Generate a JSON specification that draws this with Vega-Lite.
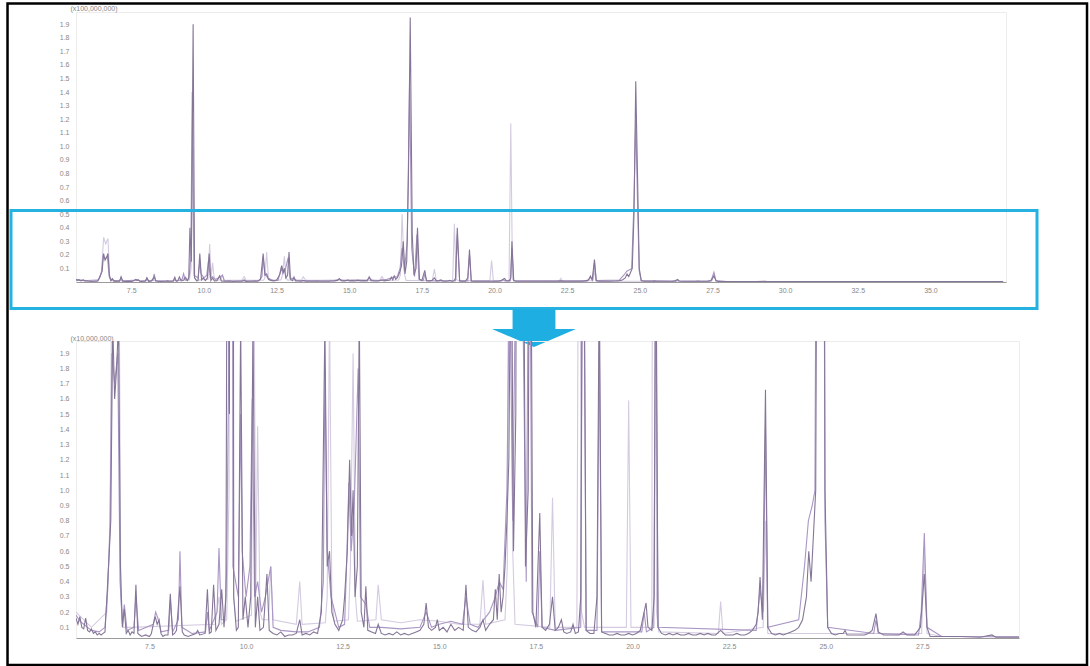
{
  "$schema": "https://vega.github.io/schema/vega-lite/v6.json",
  "autosize": {"type": "pad"},
  "padding": {"left": 5, "top": 1, "right": 3, "bottom": 1},
  "background": "white",
  "spacing": 59,
  "bounds": "flush",
  "config": {
    "view": {"stroke": "#ececec"},
    "axis": {"labelFont": "Liberation Sans", "labelFontSize": 7, "labelColor": "#888", "labelOverlap": false, "ticks": false, "grid": false, "titleFont": "Liberation Sans", "titleFontSize": 7, "titleFontWeight": "normal", "titleColor": "#888", "domainColor": "#9a9a9a"}
  },
  "datasets": {
    "chrom": [
      {"s":"light","t":5.6,"v":0.2},{"s":"light","t":6.0,"v":0.1},{"s":"light","t":6.4,"v":0.2},{"s":"light","t":6.48,"v":0.8},{"s":"light","t":6.55,"v":3.3},{"s":"light","t":6.62,"v":2.8},{"s":"light","t":6.7,"v":3.2},{"s":"light","t":6.76,"v":0.3},{"s":"light","t":6.82,"v":0.1},{"s":"light","t":7.0,"v":0.1},{"s":"light","t":9.2,"v":0.12},{"s":"light","t":9.3,"v":0.3},{"s":"light","t":9.36,"v":0.12},{"s":"light","t":9.5,"v":0.15},{"s":"light","t":9.56,"v":1.0},{"s":"light","t":9.62,"v":10},{"s":"light","t":9.68,"v":0.3},{"s":"light","t":9.74,"v":0.14},{"s":"light","t":10.14,"v":0.18},{"s":"light","t":10.2,"v":2.8},{"s":"light","t":10.25,"v":0.3},{"s":"light","t":10.3,"v":1.42},{"s":"light","t":10.36,"v":0.2},{"s":"light","t":10.42,"v":0.15},{"s":"light","t":10.58,"v":0.15},{"s":"light","t":10.64,"v":0.5},{"s":"light","t":10.7,"v":0.15},{"s":"light","t":11.3,"v":0.12},{"s":"light","t":11.39,"v":0.4},{"s":"light","t":11.45,"v":0.12},{"s":"light","t":12.05,"v":0.13},{"s":"light","t":12.1,"v":0.3},{"s":"light","t":12.16,"v":2.2},{"s":"light","t":12.22,"v":0.3},{"s":"light","t":12.28,"v":0.14},{"s":"light","t":12.65,"v":0.15},{"s":"light","t":12.7,"v":0.5},{"s":"light","t":12.77,"v":1.9},{"s":"light","t":12.83,"v":0.3},{"s":"light","t":12.88,"v":0.14},{"s":"light","t":13.36,"v":0.15},{"s":"light","t":13.42,"v":0.38},{"s":"light","t":13.5,"v":0.15},{"s":"light","t":14.0,"v":0.13},{"s":"light","t":14.5,"v":0.15},{"s":"light","t":15.0,"v":0.14},{"s":"light","t":15.5,"v":0.12},{"s":"light","t":16.05,"v":0.12},{"s":"light","t":16.13,"v":0.41},{"s":"light","t":16.2,"v":0.12},{"s":"light","t":16.7,"v":0.15},{"s":"light","t":16.76,"v":0.5},{"s":"light","t":16.82,"v":5},{"s":"light","t":16.9,"v":0.6},{"s":"light","t":16.96,"v":0.12},{"s":"light","t":17.86,"v":0.1},{"s":"light","t":17.93,"v":0.95},{"s":"light","t":18.0,"v":0.1},{"s":"light","t":18.56,"v":0.1},{"s":"light","t":18.62,"v":4.3},{"s":"light","t":18.68,"v":0.2},{"s":"light","t":18.76,"v":0.1},{"s":"light","t":19.84,"v":0.1},{"s":"light","t":19.9,"v":1.59},{"s":"light","t":19.96,"v":0.1},{"s":"light","t":20.5,"v":0.1},{"s":"light","t":20.56,"v":11.7},{"s":"light","t":20.62,"v":0.2},{"s":"light","t":20.68,"v":0.07},{"s":"light","t":22.22,"v":0.06},{"s":"light","t":22.28,"v":0.27},{"s":"light","t":22.34,"v":0.06},{"s":"light","t":23.38,"v":0.1},{"s":"light","t":23.44,"v":0.8},{"s":"light","t":23.5,"v":0.06},{"s":"light","t":27.48,"v":0.06},{"s":"light","t":27.55,"v":0.6},{"s":"light","t":27.62,"v":0.06},{"s":"light","t":28.0,"v":0.04},{"s":"light","t":37.5,"v":0.03},

      {"s":"mid","t":5.6,"v":0.18},{"s":"mid","t":5.7,"v":0.14},{"s":"mid","t":5.8,"v":0.12},{"s":"mid","t":5.9,"v":0.1},{"s":"mid","t":6.0,"v":0.08},{"s":"mid","t":6.2,"v":0.07},{"s":"mid","t":6.35,"v":0.1},{"s":"mid","t":6.42,"v":0.35},{"s":"mid","t":6.48,"v":0.75},{"s":"mid","t":6.53,"v":1.9},{"s":"mid","t":6.6,"v":1.7},{"s":"mid","t":6.68,"v":1.9},{"s":"mid","t":6.74,"v":0.4},{"s":"mid","t":6.8,"v":0.12},{"s":"mid","t":6.85,"v":0.25},{"s":"mid","t":6.92,"v":0.08},{"s":"mid","t":7.1,"v":0.1},{"s":"mid","t":7.15,"v":0.3},{"s":"mid","t":7.22,"v":0.08},{"s":"mid","t":7.6,"v":0.12},{"s":"mid","t":7.66,"v":0.2},{"s":"mid","t":7.72,"v":0.16},{"s":"mid","t":7.8,"v":0.07},{"s":"mid","t":8.0,"v":0.08},{"s":"mid","t":8.04,"v":0.28},{"s":"mid","t":8.1,"v":0.07},{"s":"mid","t":8.25,"v":0.15},{"s":"mid","t":8.29,"v":0.6},{"s":"mid","t":8.34,"v":0.1},{"s":"mid","t":8.6,"v":0.06},{"s":"mid","t":8.95,"v":0.07},{"s":"mid","t":9.0,"v":0.2},{"s":"mid","t":9.05,"v":0.08},{"s":"mid","t":9.25,"v":0.2},{"s":"mid","t":9.3,"v":0.62},{"s":"mid","t":9.36,"v":0.15},{"s":"mid","t":9.45,"v":0.15},{"s":"mid","t":9.5,"v":0.5},{"s":"mid","t":9.55,"v":1.8},{"s":"mid","t":9.6,"v":14},{"s":"mid","t":9.66,"v":0.5},{"s":"mid","t":9.8,"v":0.3},{"s":"mid","t":9.86,"v":1.5},{"s":"mid","t":9.9,"v":0.6},{"s":"mid","t":10.0,"v":0.3},{"s":"mid","t":10.1,"v":0.5},{"s":"mid","t":10.16,"v":1.6},{"s":"mid","t":10.22,"v":0.3},{"s":"mid","t":10.3,"v":0.4},{"s":"mid","t":10.4,"v":0.2},{"s":"mid","t":10.5,"v":0.3},{"s":"mid","t":10.64,"v":0.5},{"s":"mid","t":10.7,"v":0.1},{"s":"mid","t":10.9,"v":0.08},{"s":"mid","t":11.3,"v":0.07},{"s":"mid","t":11.6,"v":0.07},{"s":"mid","t":11.9,"v":0.1},{"s":"mid","t":12.0,"v":0.4},{"s":"mid","t":12.04,"v":1.8},{"s":"mid","t":12.1,"v":0.6},{"s":"mid","t":12.2,"v":0.3},{"s":"mid","t":12.4,"v":0.1},{"s":"mid","t":12.55,"v":0.12},{"s":"mid","t":12.6,"v":0.5},{"s":"mid","t":12.66,"v":1.05},{"s":"mid","t":12.72,"v":0.6},{"s":"mid","t":12.8,"v":0.9},{"s":"mid","t":12.9,"v":1.8},{"s":"mid","t":12.96,"v":0.3},{"s":"mid","t":13.1,"v":0.25},{"s":"mid","t":13.2,"v":0.1},{"s":"mid","t":13.5,"v":0.1},{"s":"mid","t":14.0,"v":0.09},{"s":"mid","t":14.5,"v":0.1},{"s":"mid","t":14.66,"v":0.2},{"s":"mid","t":14.8,"v":0.1},{"s":"mid","t":15.0,"v":0.12},{"s":"mid","t":15.3,"v":0.14},{"s":"mid","t":15.6,"v":0.12},{"s":"mid","t":15.69,"v":0.3},{"s":"mid","t":15.8,"v":0.12},{"s":"mid","t":16.0,"v":0.1},{"s":"mid","t":16.3,"v":0.2},{"s":"mid","t":16.45,"v":0.3},{"s":"mid","t":16.55,"v":0.4},{"s":"mid","t":16.65,"v":0.35},{"s":"mid","t":16.75,"v":1.0},{"s":"mid","t":16.82,"v":2.5},{"s":"mid","t":16.9,"v":0.8},{"s":"mid","t":17.0,"v":3},{"s":"mid","t":17.08,"v":15},{"s":"mid","t":17.15,"v":2.5},{"s":"mid","t":17.25,"v":0.4},{"s":"mid","t":17.33,"v":3.5},{"s":"mid","t":17.4,"v":0.2},{"s":"mid","t":17.55,"v":0.1},{"s":"mid","t":17.6,"v":0.6},{"s":"mid","t":17.66,"v":0.1},{"s":"mid","t":18.0,"v":0.08},{"s":"mid","t":18.66,"v":0.1},{"s":"mid","t":18.72,"v":3.5},{"s":"mid","t":18.8,"v":0.08},{"s":"mid","t":19.08,"v":0.08},{"s":"mid","t":19.14,"v":2.0},{"s":"mid","t":19.2,"v":0.07},{"s":"mid","t":20.24,"v":0.07},{"s":"mid","t":20.3,"v":0.2},{"s":"mid","t":20.36,"v":0.07},{"s":"mid","t":20.55,"v":0.1},{"s":"mid","t":20.6,"v":2.5},{"s":"mid","t":20.66,"v":0.1},{"s":"mid","t":23.2,"v":0.08},{"s":"mid","t":23.3,"v":0.35},{"s":"mid","t":23.38,"v":0.2},{"s":"mid","t":23.44,"v":1.4},{"s":"mid","t":23.5,"v":0.1},{"s":"mid","t":24.3,"v":0.15},{"s":"mid","t":24.45,"v":0.5},{"s":"mid","t":24.55,"v":0.8},{"s":"mid","t":24.65,"v":0.9},{"s":"mid","t":24.72,"v":1.0},{"s":"mid","t":24.8,"v":6},{"s":"mid","t":24.86,"v":12},{"s":"mid","t":24.92,"v":6},{"s":"mid","t":24.98,"v":0.8},{"s":"mid","t":25.05,"v":0.1},{"s":"mid","t":26.24,"v":0.06},{"s":"mid","t":26.3,"v":0.15},{"s":"mid","t":26.36,"v":0.06},{"s":"mid","t":27.4,"v":0.05},{"s":"mid","t":27.47,"v":0.2},{"s":"mid","t":27.55,"v":0.72},{"s":"mid","t":27.62,"v":0.1},{"s":"mid","t":28.0,"v":0.04},{"s":"mid","t":37.5,"v":0.03},

      {"s":"dark","t":5.6,"v":0.16},{"s":"dark","t":5.65,"v":0.12},{"s":"dark","t":5.7,"v":0.17},{"s":"dark","t":5.75,"v":0.1},{"s":"dark","t":5.8,"v":0.09},{"s":"dark","t":5.85,"v":0.16},{"s":"dark","t":5.9,"v":0.08},{"s":"dark","t":5.95,"v":0.07},{"s":"dark","t":6.0,"v":0.09},{"s":"dark","t":6.05,"v":0.06},{"s":"dark","t":6.1,"v":0.07},{"s":"dark","t":6.15,"v":0.05},{"s":"dark","t":6.2,"v":0.06},{"s":"dark","t":6.25,"v":0.05},{"s":"dark","t":6.3,"v":0.06},{"s":"dark","t":6.35,"v":0.07},{"s":"dark","t":6.4,"v":0.3},{"s":"dark","t":6.46,"v":0.59},{"s":"dark","t":6.5,"v":0.8},{"s":"dark","t":6.55,"v":2.1},{"s":"dark","t":6.6,"v":1.6},{"s":"dark","t":6.65,"v":1.8},{"s":"dark","t":6.7,"v":2.1},{"s":"dark","t":6.75,"v":0.5},{"s":"dark","t":6.8,"v":0.1},{"s":"dark","t":6.85,"v":0.22},{"s":"dark","t":6.9,"v":0.06},{"s":"dark","t":6.95,"v":0.08},{"s":"dark","t":7.0,"v":0.05},{"s":"dark","t":7.05,"v":0.07},{"s":"dark","t":7.1,"v":0.06},{"s":"dark","t":7.15,"v":0.38},{"s":"dark","t":7.2,"v":0.06},{"s":"dark","t":7.25,"v":0.05},{"s":"dark","t":7.3,"v":0.04},{"s":"dark","t":7.4,"v":0.05},{"s":"dark","t":7.5,"v":0.04},{"s":"dark","t":7.55,"v":0.06},{"s":"dark","t":7.6,"v":0.12},{"s":"dark","t":7.65,"v":0.17},{"s":"dark","t":7.7,"v":0.12},{"s":"dark","t":7.75,"v":0.15},{"s":"dark","t":7.8,"v":0.06},{"s":"dark","t":7.85,"v":0.04},{"s":"dark","t":7.9,"v":0.05},{"s":"dark","t":7.98,"v":0.05},{"s":"dark","t":8.04,"v":0.32},{"s":"dark","t":8.1,"v":0.05},{"s":"dark","t":8.15,"v":0.06},{"s":"dark","t":8.2,"v":0.08},{"s":"dark","t":8.29,"v":0.37},{"s":"dark","t":8.35,"v":0.07},{"s":"dark","t":8.4,"v":0.05},{"s":"dark","t":8.5,"v":0.04},{"s":"dark","t":8.6,"v":0.05},{"s":"dark","t":8.7,"v":0.06},{"s":"dark","t":8.75,"v":0.08},{"s":"dark","t":8.8,"v":0.05},{"s":"dark","t":8.94,"v":0.06},{"s":"dark","t":9.0,"v":0.35},{"s":"dark","t":9.05,"v":0.06},{"s":"dark","t":9.1,"v":0.07},{"s":"dark","t":9.16,"v":0.38},{"s":"dark","t":9.22,"v":0.08},{"s":"dark","t":9.3,"v":0.12},{"s":"dark","t":9.37,"v":0.35},{"s":"dark","t":9.43,"v":0.1},{"s":"dark","t":9.48,"v":0.3},{"s":"dark","t":9.52,"v":4.0},{"s":"dark","t":9.57,"v":1.5},{"s":"dark","t":9.63,"v":19.0},{"s":"dark","t":9.68,"v":0.3},{"s":"dark","t":9.75,"v":0.08},{"s":"dark","t":9.8,"v":0.1},{"s":"dark","t":9.86,"v":2.1},{"s":"dark","t":9.92,"v":0.15},{"s":"dark","t":9.98,"v":0.3},{"s":"dark","t":10.05,"v":0.1},{"s":"dark","t":10.12,"v":0.3},{"s":"dark","t":10.18,"v":2.1},{"s":"dark","t":10.24,"v":0.1},{"s":"dark","t":10.3,"v":0.3},{"s":"dark","t":10.36,"v":0.08},{"s":"dark","t":10.45,"v":0.1},{"s":"dark","t":10.54,"v":0.45},{"s":"dark","t":10.6,"v":0.08},{"s":"dark","t":10.7,"v":0.06},{"s":"dark","t":10.8,"v":0.05},{"s":"dark","t":10.9,"v":0.07},{"s":"dark","t":11.0,"v":0.04},{"s":"dark","t":11.1,"v":0.05},{"s":"dark","t":11.2,"v":0.05},{"s":"dark","t":11.3,"v":0.06},{"s":"dark","t":11.39,"v":0.15},{"s":"dark","t":11.45,"v":0.05},{"s":"dark","t":11.55,"v":0.06},{"s":"dark","t":11.65,"v":0.05},{"s":"dark","t":11.75,"v":0.07},{"s":"dark","t":11.85,"v":0.06},{"s":"dark","t":11.95,"v":0.2},{"s":"dark","t":12.04,"v":2.1},{"s":"dark","t":12.1,"v":0.5},{"s":"dark","t":12.16,"v":0.6},{"s":"dark","t":12.22,"v":0.2},{"s":"dark","t":12.3,"v":0.12},{"s":"dark","t":12.4,"v":0.08},{"s":"dark","t":12.5,"v":0.15},{"s":"dark","t":12.55,"v":0.3},{"s":"dark","t":12.62,"v":0.6},{"s":"dark","t":12.68,"v":1.2},{"s":"dark","t":12.73,"v":0.7},{"s":"dark","t":12.77,"v":1.0},{"s":"dark","t":12.82,"v":0.3},{"s":"dark","t":12.88,"v":0.5},{"s":"dark","t":12.93,"v":2.2},{"s":"dark","t":12.98,"v":0.2},{"s":"dark","t":13.05,"v":0.1},{"s":"dark","t":13.1,"v":0.37},{"s":"dark","t":13.15,"v":0.08},{"s":"dark","t":13.25,"v":0.07},{"s":"dark","t":13.35,"v":0.06},{"s":"dark","t":13.42,"v":0.12},{"s":"dark","t":13.5,"v":0.06},{"s":"dark","t":13.6,"v":0.05},{"s":"dark","t":13.7,"v":0.06},{"s":"dark","t":13.8,"v":0.05},{"s":"dark","t":13.9,"v":0.07},{"s":"dark","t":14.0,"v":0.05},{"s":"dark","t":14.1,"v":0.06},{"s":"dark","t":14.2,"v":0.05},{"s":"dark","t":14.3,"v":0.06},{"s":"dark","t":14.4,"v":0.07},{"s":"dark","t":14.5,"v":0.08},{"s":"dark","t":14.6,"v":0.12},{"s":"dark","t":14.66,"v":0.26},{"s":"dark","t":14.72,"v":0.1},{"s":"dark","t":14.8,"v":0.08},{"s":"dark","t":14.9,"v":0.1},{"s":"dark","t":14.95,"v":0.15},{"s":"dark","t":15.0,"v":0.08},{"s":"dark","t":15.1,"v":0.1},{"s":"dark","t":15.2,"v":0.07},{"s":"dark","t":15.3,"v":0.12},{"s":"dark","t":15.4,"v":0.08},{"s":"dark","t":15.5,"v":0.1},{"s":"dark","t":15.62,"v":0.08},{"s":"dark","t":15.69,"v":0.38},{"s":"dark","t":15.75,"v":0.1},{"s":"dark","t":15.85,"v":0.08},{"s":"dark","t":15.95,"v":0.07},{"s":"dark","t":16.05,"v":0.1},{"s":"dark","t":16.13,"v":0.15},{"s":"dark","t":16.2,"v":0.08},{"s":"dark","t":16.3,"v":0.12},{"s":"dark","t":16.4,"v":0.15},{"s":"dark","t":16.45,"v":0.35},{"s":"dark","t":16.5,"v":0.15},{"s":"dark","t":16.55,"v":0.45},{"s":"dark","t":16.6,"v":0.2},{"s":"dark","t":16.65,"v":0.3},{"s":"dark","t":16.7,"v":0.5},{"s":"dark","t":16.75,"v":0.8},{"s":"dark","t":16.8,"v":1.2},{"s":"dark","t":16.86,"v":3.0},{"s":"dark","t":16.92,"v":0.6},{"s":"dark","t":16.98,"v":1.5},{"s":"dark","t":17.04,"v":8.0},{"s":"dark","t":17.1,"v":19.5},{"s":"dark","t":17.17,"v":3.5},{"s":"dark","t":17.23,"v":0.5},{"s":"dark","t":17.3,"v":1.0},{"s":"dark","t":17.35,"v":4.0},{"s":"dark","t":17.42,"v":0.2},{"s":"dark","t":17.5,"v":0.1},{"s":"dark","t":17.6,"v":0.85},{"s":"dark","t":17.66,"v":0.1},{"s":"dark","t":17.75,"v":0.08},{"s":"dark","t":17.85,"v":0.12},{"s":"dark","t":17.93,"v":0.3},{"s":"dark","t":18.0,"v":0.08},{"s":"dark","t":18.08,"v":0.1},{"s":"dark","t":18.16,"v":0.15},{"s":"dark","t":18.22,"v":0.07},{"s":"dark","t":18.3,"v":0.06},{"s":"dark","t":18.4,"v":0.07},{"s":"dark","t":18.46,"v":0.12},{"s":"dark","t":18.52,"v":0.06},{"s":"dark","t":18.6,"v":0.07},{"s":"dark","t":18.66,"v":0.3},{"s":"dark","t":18.72,"v":4.0},{"s":"dark","t":18.8,"v":0.08},{"s":"dark","t":18.9,"v":0.06},{"s":"dark","t":19.0,"v":0.06},{"s":"dark","t":19.08,"v":0.3},{"s":"dark","t":19.14,"v":2.4},{"s":"dark","t":19.2,"v":0.07},{"s":"dark","t":19.3,"v":0.06},{"s":"dark","t":19.4,"v":0.05},{"s":"dark","t":19.5,"v":0.05},{"s":"dark","t":19.6,"v":0.06},{"s":"dark","t":19.7,"v":0.05},{"s":"dark","t":19.8,"v":0.05},{"s":"dark","t":19.9,"v":0.06},{"s":"dark","t":20.0,"v":0.05},{"s":"dark","t":20.1,"v":0.06},{"s":"dark","t":20.2,"v":0.08},{"s":"dark","t":20.3,"v":0.2},{"s":"dark","t":20.35,"v":0.26},{"s":"dark","t":20.4,"v":0.1},{"s":"dark","t":20.5,"v":0.08},{"s":"dark","t":20.56,"v":0.3},{"s":"dark","t":20.6,"v":3.0},{"s":"dark","t":20.66,"v":0.1},{"s":"dark","t":20.75,"v":0.06},{"s":"dark","t":20.85,"v":0.05},{"s":"dark","t":20.95,"v":0.06},{"s":"dark","t":21.05,"v":0.05},{"s":"dark","t":21.15,"v":0.06},{"s":"dark","t":21.25,"v":0.05},{"s":"dark","t":21.35,"v":0.05},{"s":"dark","t":21.45,"v":0.06},{"s":"dark","t":21.55,"v":0.05},{"s":"dark","t":21.65,"v":0.05},{"s":"dark","t":21.75,"v":0.06},{"s":"dark","t":21.85,"v":0.05},{"s":"dark","t":21.95,"v":0.06},{"s":"dark","t":22.05,"v":0.05},{"s":"dark","t":22.15,"v":0.05},{"s":"dark","t":22.28,"v":0.08},{"s":"dark","t":22.4,"v":0.05},{"s":"dark","t":22.5,"v":0.05},{"s":"dark","t":22.6,"v":0.05},{"s":"dark","t":22.7,"v":0.06},{"s":"dark","t":22.8,"v":0.05},{"s":"dark","t":22.9,"v":0.05},{"s":"dark","t":23.0,"v":0.06},{"s":"dark","t":23.1,"v":0.08},{"s":"dark","t":23.2,"v":0.12},{"s":"dark","t":23.25,"v":0.2},{"s":"dark","t":23.3,"v":0.43},{"s":"dark","t":23.36,"v":0.15},{"s":"dark","t":23.44,"v":1.66},{"s":"dark","t":23.5,"v":0.1},{"s":"dark","t":23.6,"v":0.06},{"s":"dark","t":23.7,"v":0.05},{"s":"dark","t":23.8,"v":0.06},{"s":"dark","t":23.9,"v":0.05},{"s":"dark","t":24.0,"v":0.06},{"s":"dark","t":24.1,"v":0.07},{"s":"dark","t":24.2,"v":0.08},{"s":"dark","t":24.3,"v":0.1},{"s":"dark","t":24.4,"v":0.15},{"s":"dark","t":24.5,"v":0.3},{"s":"dark","t":24.56,"v":0.6},{"s":"dark","t":24.62,"v":0.4},{"s":"dark","t":24.68,"v":0.7},{"s":"dark","t":24.74,"v":1.0},{"s":"dark","t":24.8,"v":5.0},{"s":"dark","t":24.86,"v":14.8},{"s":"dark","t":24.92,"v":8.0},{"s":"dark","t":24.98,"v":1.0},{"s":"dark","t":25.05,"v":0.1},{"s":"dark","t":25.15,"v":0.06},{"s":"dark","t":25.25,"v":0.05},{"s":"dark","t":25.35,"v":0.06},{"s":"dark","t":25.45,"v":0.06},{"s":"dark","t":25.5,"v":0.08},{"s":"dark","t":25.55,"v":0.05},{"s":"dark","t":25.7,"v":0.05},{"s":"dark","t":25.85,"v":0.05},{"s":"dark","t":26.0,"v":0.05},{"s":"dark","t":26.1,"v":0.06},{"s":"dark","t":26.2,"v":0.08},{"s":"dark","t":26.3,"v":0.19},{"s":"dark","t":26.36,"v":0.07},{"s":"dark","t":26.5,"v":0.05},{"s":"dark","t":26.7,"v":0.05},{"s":"dark","t":26.9,"v":0.05},{"s":"dark","t":27.0,"v":0.07},{"s":"dark","t":27.1,"v":0.05},{"s":"dark","t":27.3,"v":0.05},{"s":"dark","t":27.45,"v":0.1},{"s":"dark","t":27.55,"v":0.45},{"s":"dark","t":27.62,"v":0.1},{"s":"dark","t":27.7,"v":0.04},{"s":"dark","t":28.0,"v":0.04},{"s":"dark","t":28.5,"v":0.04},{"s":"dark","t":29.0,"v":0.035},{"s":"dark","t":29.3,"v":0.05},{"s":"dark","t":29.4,"v":0.035},{"s":"dark","t":30.0,"v":0.035},{"s":"dark","t":31.0,"v":0.03},{"s":"dark","t":32.0,"v":0.03},{"s":"dark","t":33.0,"v":0.03},{"s":"dark","t":34.0,"v":0.03},{"s":"dark","t":35.0,"v":0.03},{"s":"dark","t":36.0,"v":0.03},{"s":"dark","t":37.0,"v":0.03},{"s":"dark","t":37.5,"v":0.03}
    ],
    "box": [{"t1": 3.363, "t2": 38.667, "v1": -1.953, "v2": 5.27}],
    "arrow": [{"t": 21.359, "v": -3.39}],
    "frame": [{"t1": 3.828, "t2": 31.76, "v1": -0.147, "v2": 4.196}]
  },
  "resolve": {"scale": {"x": "independent", "y": "independent"}},
  "vconcat": [
    {
      "width": 930,
      "height": 270,
      "layer": [
        {
          "data": {"name": "chrom"},
          "mark": {"type": "line", "strokeWidth": 1.1, "clip": true},
          "encoding": {
            "x": {"field": "t", "type": "quantitative", "scale": {"domain": [5.6, 37.6], "nice": false, "zero": false},
                  "axis": {"title": null, "values": [7.5, 10, 12.5, 15, 17.5, 20, 22.5, 25, 27.5, 30, 32.5, 35], "tickCount": 40, "format": ".1f", "labelPadding": 4, "labelOverlap": false}},
            "y": {"field": "v", "type": "quantitative", "scale": {"domain": [0, 19.9], "nice": false, "zero": false},
                  "axis": {"title": "(x100,000,000)", "titleAngle": 0, "titleAlign": "left", "titleBaseline": "alphabetic", "titleX": -6, "titleY": -2,
                           "values": [1,2,3,4,5,6,7,8,9,10,11,12,13,14,15,16,17,18,19], "tickCount": 40, "labelExpr": "format(datum.value/10, '.1f')", "labelPadding": 7, "labelOverlap": false, "domain": false}},
            "color": {"field": "s", "type": "nominal", "scale": {"domain": ["light", "mid", "dark"], "range": ["#d4cbe0", "#a996c4", "#857697"]}, "legend": null}
          }
        },
        {
          "data": {"name": "box"},
          "mark": {"type": "rect", "filled": false, "stroke": "#25b2e0", "strokeWidth": 3, "clip": false},
          "encoding": {
            "x": {"field": "t1", "type": "quantitative"},
            "x2": {"field": "t2"},
            "y": {"field": "v1", "type": "quantitative"},
            "y2": {"field": "v2"}
          }
        },
        {
          "data": {"name": "arrow"},
          "mark": {"type": "point", "filled": true, "opacity": 1, "color": "#1eaee2", "strokeWidth": 0, "size": 7056, "clip": false,
                   "shape": "M-0.51,-0.452 L0.51,-0.452 L0.51,0.024 L1,0.024 L0,0.452 L-1,0.024 L-0.51,0.024 Z"},
          "encoding": {
            "x": {"field": "t", "type": "quantitative"},
            "y": {"field": "v", "type": "quantitative"}
          }
        }
      ]
    },
    {
      "width": 943,
      "height": 297,
      "layer": [
        {
          "data": {"name": "chrom"},
          "mark": {"type": "line", "strokeWidth": 1.1, "clip": true},
          "encoding": {
            "x": {"field": "t", "type": "quantitative", "scale": {"domain": [5.6, 30.0], "nice": false, "zero": false},
                  "axis": {"title": null, "values": [7.5, 10, 12.5, 15, 17.5, 20, 22.5, 25, 27.5], "tickCount": 40, "format": ".1f", "labelPadding": 4, "labelOverlap": false}},
            "y": {"field": "v", "type": "quantitative", "scale": {"domain": [0.03, 1.98], "nice": false, "zero": false},
                  "axis": {"title": "(x10,000,000)", "titleAngle": 0, "titleAlign": "left", "titleBaseline": "alphabetic", "titleX": -6, "titleY": -1,
                           "values": [0.1,0.2,0.3,0.4,0.5,0.6,0.7,0.8,0.9,1.0,1.1,1.2,1.3,1.4,1.5,1.6,1.7,1.8,1.9], "tickCount": 40, "format": ".1f", "labelPadding": 7, "labelOverlap": false, "domain": false}},
            "color": {"field": "s", "type": "nominal", "scale": {"domain": ["light", "mid", "dark"], "range": ["#d4cbe0", "#a996c4", "#857697"]}, "legend": null}
          }
        },
        {
          "data": {"name": "frame"},
          "mark": {"type": "rect", "filled": false, "stroke": "#000000", "strokeWidth": 2.5, "clip": false},
          "encoding": {
            "x": {"field": "t1", "type": "quantitative"},
            "x2": {"field": "t2"},
            "y": {"field": "v1", "type": "quantitative"},
            "y2": {"field": "v2"}
          }
        }
      ]
    }
  ]
}
